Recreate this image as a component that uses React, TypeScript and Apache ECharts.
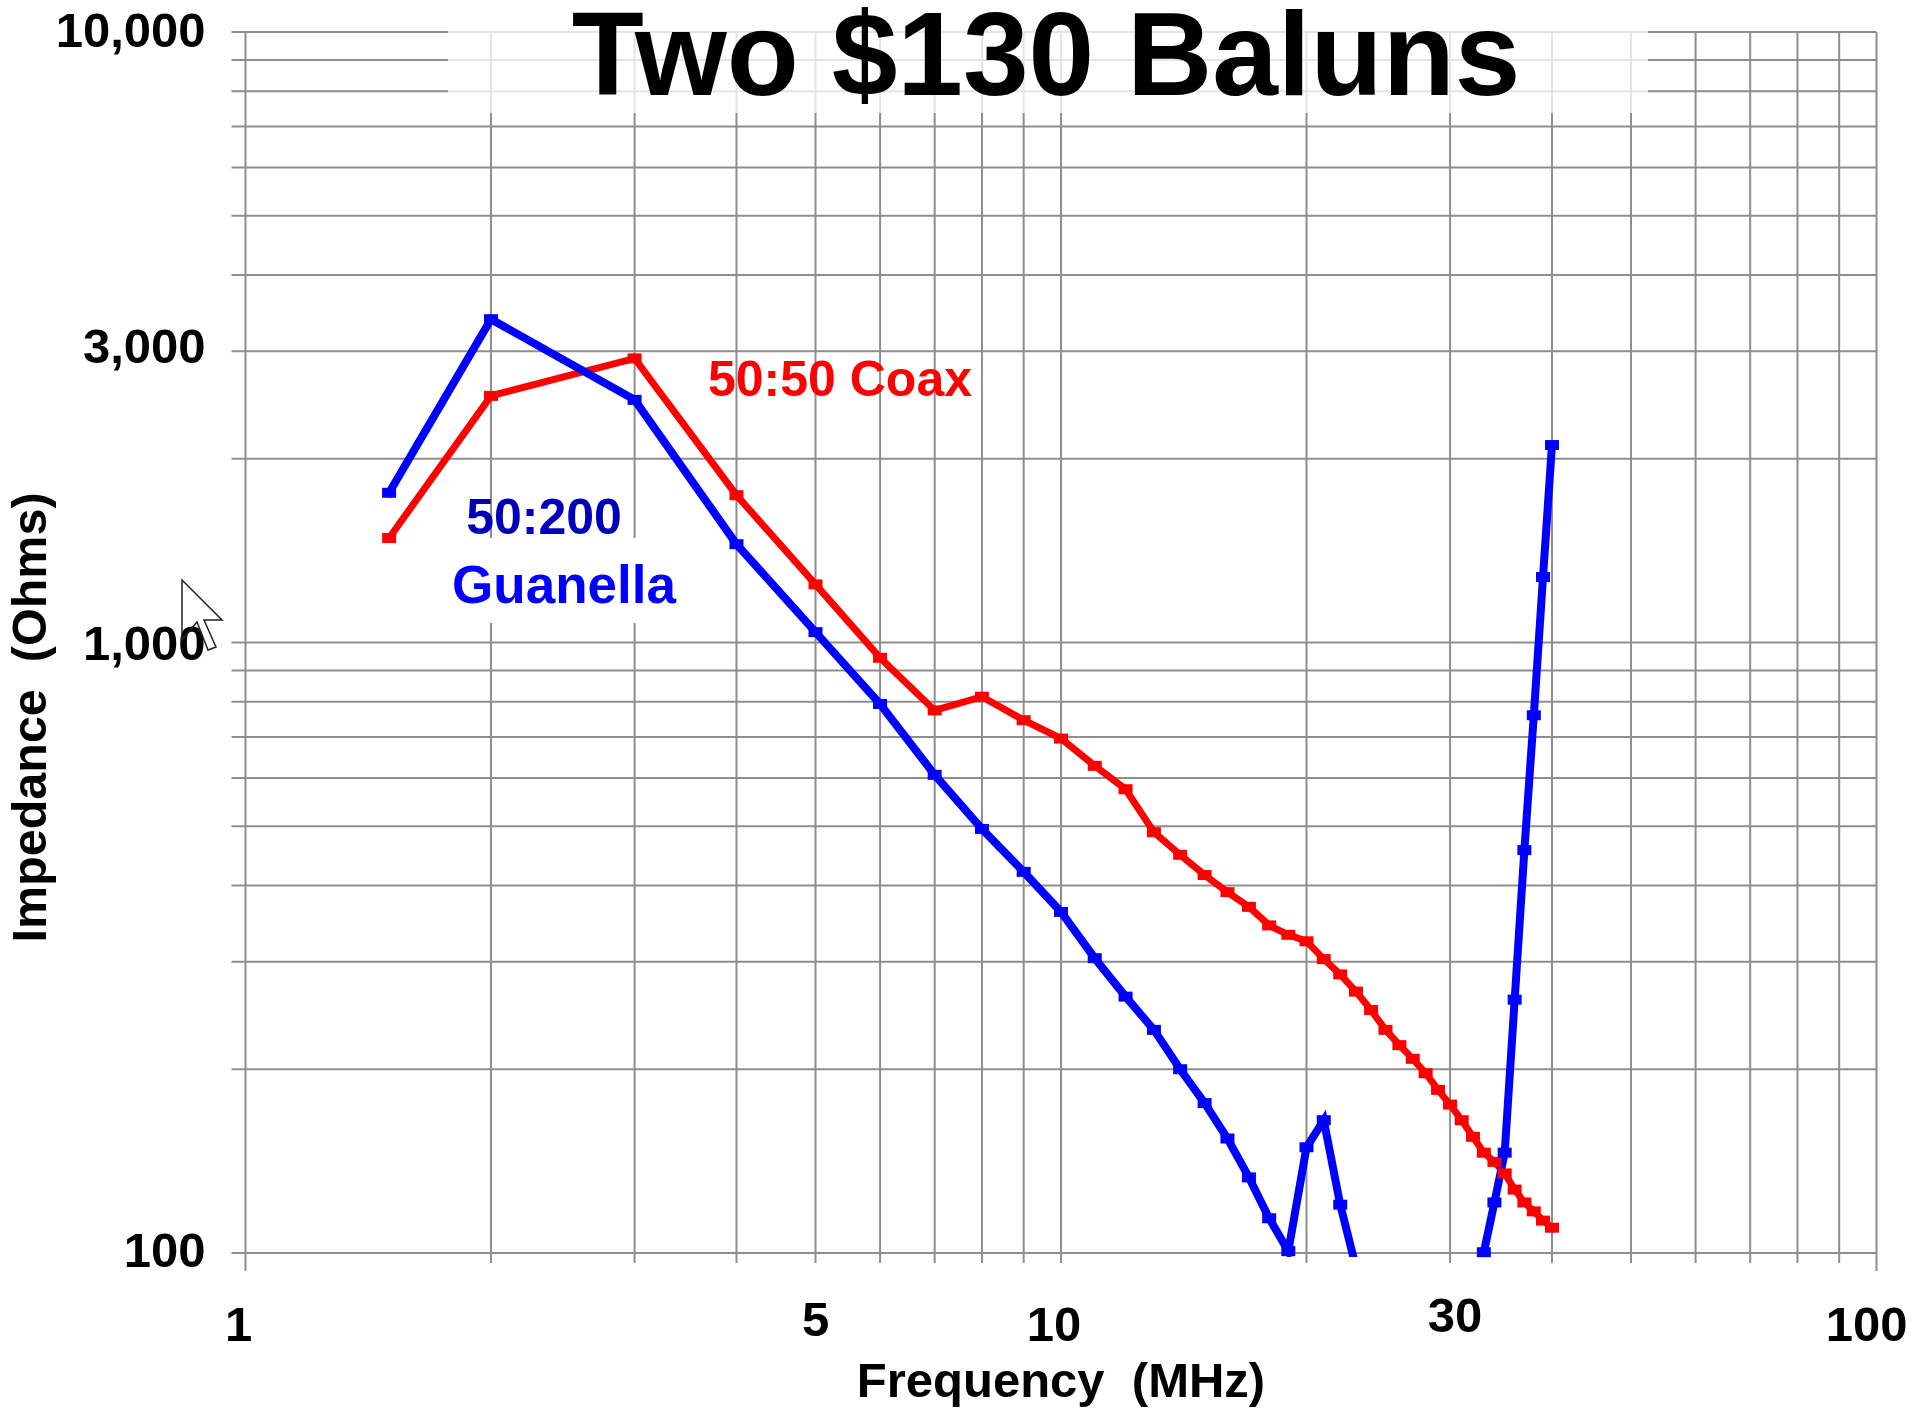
import React, { useEffect, useRef } from "react";
import * as echarts from "echarts";

const TITLE = "Two $130 Baluns";
const X_NAME = "Frequency  (MHz)";
const Y_NAME = "Impedance  (Ohms)";

const xGridValues = [1, 2, 3, 4, 5, 6, 7, 8, 9, 10, 20, 30, 40, 50, 60, 70, 80, 90, 100];
const yGridValues = [100, 200, 300, 400, 500, 600, 700, 800, 900, 1000, 2000, 3000, 4000, 5000, 6000, 7000, 8000, 9000, 10000];
const xTickValues = [1, 5, 10, 30, 100];
const xTickLabels = ["1", "5", "10", "30", "100"];
const yTickValues = [100, 1000, 3000, 10000];
const yTickLabels = ["100", "1,000", "3,000", "10,000"];

const coaxFreq = [1.5, 2, 3, 4, 5, 6, 7, 8, 9, 10, 11, 12, 13, 14, 15, 16, 17, 18, 19, 20, 21, 22, 23, 24, 25, 26, 27, 28, 29, 30, 31, 32, 33, 34, 35, 36, 37, 38, 39, 40];
const coaxZ = [1483, 2535, 2920, 1743, 1245, 944, 774, 815, 746, 696, 628, 575, 489, 449, 416, 390, 369, 344, 332, 324, 303, 286, 268, 250, 232, 219, 208, 197, 185, 175, 165, 155, 146, 141, 135, 127, 121, 117, 113, 110];

const guanellaFreq = [1.5, 2, 3, 4, 5, 6, 7, 8, 9, 10, 11, 12, 13, 14, 15, 16, 17, 18, 19, 20, 21, 22, 23];
const guanellaZ = [1759, 3385, 2497, 1449, 1040, 793, 607, 495, 421, 362, 304, 263, 232, 200, 176, 154, 133, 114, 100.7, 149, 165, 120, 94.7];
const guanellaHighFreq = [33, 34, 35, 36, 37, 38, 39, 40];
const guanellaHighZ = [100.3, 121, 146, 260, 457, 760, 1280, 2106];

const FONT = "'Liberation Sans', Arial, sans-serif";
const GRID_COLOR = "#8e8e8e";

const xLabelOffsets = [[-7, 71], [0, 66], [-7, 71], [5, 62], [-10, 71]];
const yLabelOffsets = [-3, 0, -5, -2];

export default function App() {
  const ref = useRef<HTMLDivElement>(null);
  useEffect(() => {
    document.body.style.margin = "0";
    document.body.style.background = "#fff";
    const chart = echarts.init(ref.current!, undefined, { renderer: "svg" });

    const guideLine = (x1: number, y1: number, x2: number, y2: number) => ({
      type: "line",
      shape: { x1, y1, x2, y2 },
      style: { stroke: GRID_COLOR, lineWidth: 2 },
    });

    const tickText = (text: string, x: number, y: number, align: string) => ({
      type: "text",
      x,
      y,
      style: {
        text,
        fill: "#000",
        fontSize: 49,
        fontWeight: "bold",
        fontFamily: FONT,
        align,
        verticalAlign: "middle",
      },
    });

    const curve = (name: string, color: string, width: number, data: any[]) => ({
      name,
      type: "line",
      data,
      z: 3,
      clip: true,
      showSymbol: true,
      showAllSymbol: true,
      symbol: "rect",
      symbolSize: [14, 10],
      connectNulls: false,
      lineStyle: { color, width, cap: "square", join: "miter" },
      itemStyle: { color },
      emphasis: { disabled: true },
    });

    const option: any = {
      animation: false,
      backgroundColor: "#fff",
      tooltip: { show: false },
      grid: { left: 245.5, top: 32, width: 1631, height: 1221, containLabel: false, outerBoundsMode: "none" },
      xAxis: {
        type: "log",
        logBase: 10,
        min: 1,
        max: 100,
        axisLine: { show: false },
        axisTick: { show: false },
        axisLabel: { show: false },
        splitLine: { show: false },
        name: X_NAME,
        nameLocation: "middle",
        nameGap: 102,
        nameTextStyle: { fontSize: 49, fontWeight: "bold", fontFamily: FONT, color: "#000" },
      },
      yAxis: {
        type: "log",
        logBase: 10,
        min: 100,
        max: 10000,
        axisLine: { show: false },
        axisTick: { show: false },
        axisLabel: { show: false },
        splitLine: { show: false },
        name: Y_NAME,
        nameLocation: "middle",
        nameGap: 192,
        nameRotate: 90,
        nameTextStyle: { fontSize: 48.5, fontWeight: "bold", fontFamily: FONT, color: "#000", padding: [0, 150, 0, 0] },
      },
      series: [
        {
          name: "x grid",
          type: "custom",
          z: 1,
          silent: true,
          clip: false,
          data: xGridValues.map((v) => [v, 100]),
          renderItem: (_: any, api: any) => {
            const v = api.value(0);
            const bottom = api.coord([v, 100]);
            const top = api.coord([v, 10000]);
            const ext = v === 1 || v === 100 ? 18 : 10;
            return guideLine(bottom[0], top[1], bottom[0], bottom[1] + ext);
          },
        },
        {
          name: "y grid",
          type: "custom",
          z: 1,
          silent: true,
          clip: false,
          data: yGridValues.map((v) => [1, v]),
          renderItem: (_: any, api: any) => {
            const v = api.value(1);
            const left = api.coord([1, v]);
            const right = api.coord([100, v]);
            return guideLine(left[0] - 14, left[1], right[0], left[1]);
          },
        },
        curve("50:50 Coax", "#ff0000", 7, coaxFreq.map((f, i) => [f, coaxZ[i]])),
        curve("50:200 Guanella", "#0000ff", 8, [
          ...guanellaFreq.map((f, i) => [f, guanellaZ[i]]),
          [28, "-"],
          ...guanellaHighFreq.map((f, i) => [f, guanellaHighZ[i]]),
        ]),
        {
          name: "x labels",
          type: "custom",
          z: 5,
          silent: true,
          clip: false,
          data: xTickValues.map((v, i) => [v, 100, i]),
          renderItem: (_: any, api: any) => {
            const p = api.coord([api.value(0), 100]);
            const i = api.value(2);
            return tickText(xTickLabels[i], p[0] + xLabelOffsets[i][0], p[1] + xLabelOffsets[i][1], "center");
          },
        },
        {
          name: "y labels",
          type: "custom",
          z: 5,
          silent: true,
          clip: false,
          data: yTickValues.map((v, i) => [1, v, i]),
          renderItem: (_: any, api: any) => {
            const p = api.coord([1, api.value(1)]);
            const i = api.value(2);
            return tickText(yTickLabels[i], p[0] - 40, p[1] + yLabelOffsets[i], "right");
          },
        },
      ],
      graphic: [
        { type: "rect", z: 2, silent: true, shape: { x: 448, y: 0, width: 1200, height: 113 }, style: { fill: "rgba(255,255,255,0.76)" } },
        { type: "rect", z: 2, silent: true, shape: { x: 450, y: 538, width: 240, height: 85 }, style: { fill: "#fff" } },
        {
          type: "text", z: 6, silent: true, x: 1046, y: 54,
          style: { text: TITLE, fill: "#000", fontSize: 118, lineHeight: 100, fontWeight: "bold", fontFamily: FONT, align: "center", verticalAlign: "middle" },
        },
        {
          type: "text", z: 6, silent: true, x: 840, y: 379,
          style: { text: "50:50 Coax", fill: "#ff0000", fontSize: 50, fontWeight: "bold", fontFamily: FONT, align: "center", verticalAlign: "middle" },
        },
        {
          type: "text", z: 6, silent: true, x: 544, y: 517,
          style: { text: "50:200", fill: "#0000b8", fontSize: 50, fontWeight: "bold", fontFamily: FONT, align: "center", verticalAlign: "middle" },
        },
        {
          type: "text", z: 6, silent: true, x: 564, y: 584,
          style: { text: "Guanella", fill: "#0000ff", fontSize: 53, fontWeight: "bold", fontFamily: FONT, align: "center", verticalAlign: "middle" },
        },
        {
          type: "polygon", z: 7, silent: true,
          shape: { points: [[182, 580], [182, 640], [197, 622], [208, 650], [216, 647], [204, 620], [222, 620]] },
          style: { fill: "none", stroke: "#222", lineWidth: 1.5 },
        },
        { type: "circle", z: 7, silent: true, shape: { cx: 45, cy: 1390, r: 1.2 }, style: { fill: "#333" } },
      ],
    };
    chart.setOption(option);
    return () => chart.dispose();
  }, []);
  return <div ref={ref} style={{ position: "fixed", left: 0, top: 0, width: 1917, height: 1409 }} />;
}
